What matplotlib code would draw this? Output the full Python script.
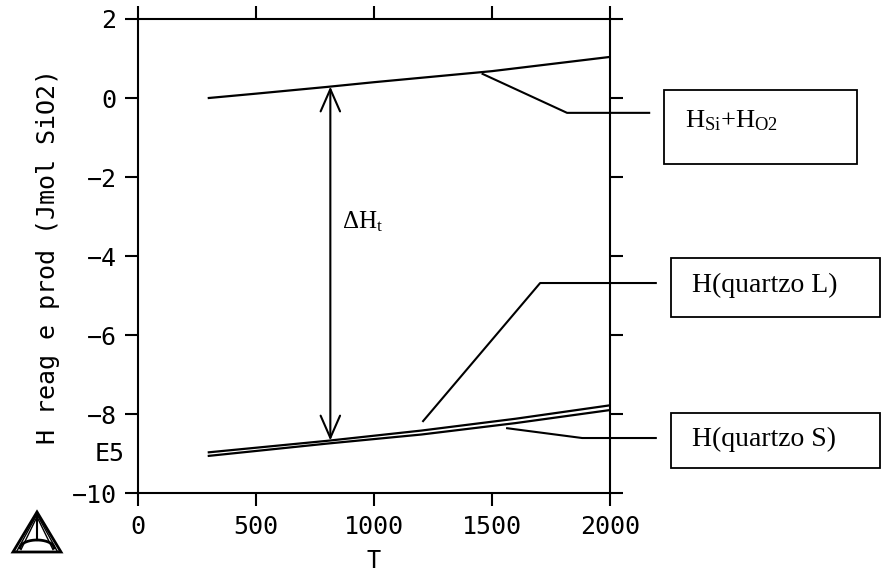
import matplotlib.pyplot as plt
import numpy as np
from matplotlib.patches import Rectangle, Polygon

# Temperaturas (K) e entalpias (E5 J/mol SiO2)
T_si = [300, 500, 800, 1000, 1500, 2000]
H_si_o2 = [0.0, 0.11, 0.28, 0.40, 0.68, 1.04]

T_qz = [300, 800, 1200, 1600, 2000]
H_quartzo_L = [-8.97, -8.68, -8.42, -8.12, -7.78]
H_quartzo_S = [-9.06, -8.75, -8.52, -8.23, -7.90]

x_ticks = [0, 500, 1000, 1500, 2000]
y_ticks = [-10, -8, -6, -4, -2, 0, 2]

T_delta = 815
mono = 'DejaVu Sans Mono'
serif = 'Liberation Serif'
plt.rcParams['mathtext.fontset'] = 'custom'
plt.rcParams['mathtext.rm'] = serif
plt.rcParams['mathtext.it'] = serif + ':italic'

W, H = 883, 575
fig = plt.figure(figsize=(W / 100, H / 100), dpi=100)
ax = fig.add_axes([138 / W, 1 - 493 / H, 472 / W, 474 / H])

ax.plot(T_si, H_si_o2, color='black', lw=1.6)
ax.plot(T_qz, H_quartzo_L, color='black', lw=1.6)
ax.plot(T_qz, H_quartzo_S, color='black', lw=1.6)

ax.set_xlim(0, 2000)
ax.set_ylim(-10, 2)
ax.set_xticks(x_ticks)
ax.set_yticks(y_ticks)
for s in ax.spines.values():
    s.set_linewidth(1.5)
ax.tick_params(direction='out', length=9.5, width=1.5, top=True, right=True,
               labelsize=18, pad=6)
for lab in ax.get_xticklabels() + ax.get_yticklabels():
    lab.set_family(mono)

ax.set_xlabel('T', family=mono, fontsize=17, va='center')
ax.xaxis.set_label_coords(0.5, -0.143)
ax.set_ylabel('H reag e prod (Jmol SiO2)', family=mono, fontsize=18)
ax.yaxis.set_label_coords(-0.165, 0.5)
ax.text(-0.028, -9.0, 'E5', transform=ax.get_yaxis_transform(), ha='right',
        va='center', family=mono, fontsize=18)

# seta de dupla ponta (Delta H)
y_top = np.interp(T_delta, T_si, H_si_o2)
y_bot = np.interp(T_delta, T_qz, H_quartzo_L)
ax.annotate('', xy=(T_delta, y_top), xytext=(T_delta, y_bot),
            arrowprops=dict(arrowstyle='<->,head_length=0.8,head_width=0.35',
                            mutation_scale=20, lw=1.5, color='black',
                            shrinkA=0, shrinkB=0))
ax.text(864, -3.29, r'$\Delta\mathrm{H}_\mathrm{t}$', family=serif, fontsize=18,
        va='baseline', ha='left')

# caixas de legenda com linhas de chamada
tr = ax.transAxes
labels = [
    ((1460, 0.61), (0.909, 0.802), 1.083, (1.114, 0.694, 0.409, 0.156),
     (1.159, 0.772), r'$\mathregular{H_{Si}{+}H_{O2}}$', 'baseline', 19),
    ((1208, -8.18), (0.852, 0.443), 1.097, (1.129, 0.371, 0.443, 0.125),
     (1.174, 0.437), 'H(quartzo L)', 'center', 20),
    ((1564, -8.36), (0.941, 0.116), 1.097, (1.129, 0.053, 0.443, 0.116),
     (1.174, 0.112), 'H(quartzo S)', 'center', 20),
]
for start, elbow, xend, box, tpos, txt, va, fs in labels:
    sx, sy = tr.inverted().transform(ax.transData.transform(start))
    ax.plot([sx, elbow[0], xend], [sy, elbow[1], elbow[1]], color='black',
            lw=1.5, transform=tr, clip_on=False)
    ax.add_patch(Rectangle((box[0], box[1]), box[2], box[3], transform=tr,
                           fill=False, lw=1.3, ec='black', clip_on=False))
    ax.text(tpos[0], tpos[1], txt, transform=tr, family=serif, fontsize=fs,
            ha='left', va=va)


# logo triangular (Thermo-Calc)
def fp(x, y):
    return (x / W, 1 - y / H)


tf = fig.transFigure
fig.add_artist(Polygon([fp(13, 552), fp(61, 552), fp(37, 512)], closed=True,
                       fill=False, lw=2, ec='black', transform=tf))
for d in (4, 8):
    fig.add_artist(plt.Line2D(*zip(fp(37, 512 + d * 0.6), fp(13 + d, 552 - d * 0.3)),
                              transform=tf, color='black', lw=1))
    fig.add_artist(plt.Line2D(*zip(fp(37, 512 + d * 0.6), fp(61 - d, 552 - d * 0.3)),
                              transform=tf, color='black', lw=1))
fig.add_artist(plt.Line2D(*zip(fp(37, 512), fp(37, 540)), transform=tf,
                          color='black', lw=1.5))
arc = np.linspace(0, np.pi, 20)
ax_px = 37 - 17 * np.cos(arc)
ay_px = 548 - 8 * np.sin(arc)
fig.add_artist(plt.Line2D(ax_px / W, 1 - ay_px / H, transform=tf, color='black', lw=2))

fig.savefig('out.png', dpi=100)
